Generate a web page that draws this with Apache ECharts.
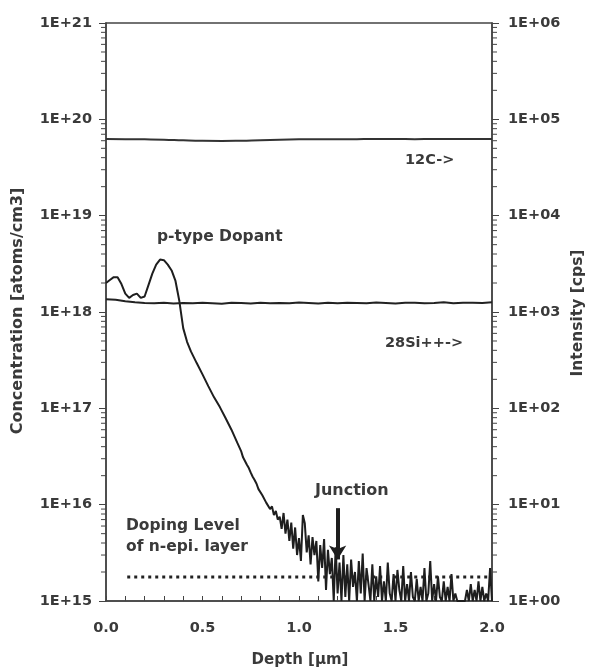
<!DOCTYPE html>
<html>
<head>
<meta charset="utf-8">
<title>SIMS depth profile</title>
<script src="https://cdn.jsdelivr.net/npm/echarts@6/dist/echarts.min.js"></script>
<style>
    html, body { margin: 0; padding: 0; background: #fff; }
    #main { width: 589px; height: 669px; }
</style>
</head>
<body>
<div id="main"></div>
<script>
// depth [um] / concentration [atoms/cm3] of the p-type dopant
var dopantDepth = [
    0.00, 0.02, 0.04, 0.06, 0.08, 0.10, 0.12, 0.14, 0.16, 0.18,
    0.20, 0.22, 0.24, 0.26, 0.28, 0.30, 0.32, 0.34, 0.36, 0.38,
    0.40, 0.42, 0.44, 0.47, 0.50, 0.53, 0.56, 0.59, 0.62, 0.65,
    0.68, 0.70, 0.71, 0.72, 0.73, 0.74, 0.75, 0.76, 0.77, 0.78,
    0.79, 0.80, 0.81, 0.82, 0.83, 0.84, 0.85, 0.86, 0.87, 0.88,
    0.89, 0.90, 0.91, 0.92, 0.93, 0.94, 0.95, 0.96, 0.97, 0.98,
    0.99, 1.00, 1.01, 1.02, 1.03, 1.04, 1.05, 1.06, 1.07, 1.08,
    1.09, 1.10, 1.11, 1.12, 1.13, 1.14, 1.15, 1.16, 1.17, 1.18,
    1.19, 1.20, 1.21, 1.22, 1.23, 1.24, 1.25, 1.26, 1.27, 1.28,
    1.29, 1.30, 1.31, 1.32, 1.33, 1.34, 1.35, 1.36, 1.37, 1.38,
    1.39, 1.40, 1.41, 1.42, 1.43, 1.44, 1.45, 1.46, 1.47, 1.48,
    1.49, 1.50, 1.51, 1.52, 1.53, 1.54, 1.55, 1.56, 1.57, 1.58,
    1.59, 1.60, 1.61, 1.62, 1.63, 1.64, 1.65, 1.66, 1.67, 1.68,
    1.69, 1.70, 1.71, 1.72, 1.73, 1.74, 1.75, 1.76, 1.77, 1.78,
    1.79, 1.80, 1.81, 1.82, 1.83, 1.84, 1.85, 1.86, 1.87, 1.88,
    1.89, 1.90, 1.91, 1.92, 1.93, 1.94, 1.95, 1.96, 1.97, 1.98,
    1.99, 2.00
];
var dopantConc = [
    2.0e18, 2.15e18, 2.3e18, 2.3e18, 1.95e18, 1.55e18, 1.4e18, 1.5e18, 1.55e18, 1.4e18,
    1.45e18, 1.9e18, 2.5e18, 3.1e18, 3.5e18, 3.45e18, 3.1e18, 2.7e18, 2.1e18, 1.3e18,
    6.8e17, 4.9e17, 3.9e17, 2.95e17, 2.25e17, 1.7e17, 1.3e17, 1.03e17, 7.9e16, 6.0e16,
    4.4e16, 3.6e16, 3.1e16, 3.0e16, 2.6e16, 2.4e16, 2.15e16, 1.95e16, 1.8e16, 1.65e16,
    1.45e16, 1.4e16, 1.25e16, 1.2e16, 1.05e16, 1.1e16, 9.0e15, 9.6e15, 7.8e15, 8.6e15,
    7.0e15, 7.5e15, 5.6e15, 8.2e15, 5.0e15, 7.0e15, 4.2e15, 6.5e15, 3.5e15, 5.8e15,
    3.0e15, 4.5e15, 2.6e15, 7.8e15, 6.4e15, 3.2e15, 4.8e15, 2.4e15, 4.6e15, 3.0e15,
    4.2e15, 1.6e15, 3.8e15, 2.2e15, 4.4e15, 1.3e15, 3.4e15, 1.9e15, 2.8e15, 1.0e15,
    3.6e15, 1.2e15, 2.5e15, 1.0e15, 3.0e15, 1.1e15, 2.4e15, 1.0e15, 2.7e15, 1.4e15,
    2.0e15, 1.0e15, 2.6e15, 1.2e15, 3.1e15, 1.0e15, 2.2e15, 1.5e15, 1.0e15, 2.4e15,
    1.0e15, 1.8e15, 1.1e15, 2.3e15, 1.0e15, 1.6e15, 1.0e15, 2.5e15, 1.2e15, 1.0e15,
    1.9e15, 1.0e15, 2.1e15, 1.3e15, 1.0e15, 2.3e15, 1.0e15, 1.5e15, 1.0e15, 2.0e15,
    1.1e15, 1.0e15, 1.7e15, 1.0e15, 1.4e15, 1.0e15, 2.2e15, 1.0e15, 1.2e15, 2.6e15,
    1.0e15, 1.5e15, 1.0e15, 1.8e15, 1.1e15, 1.0e15, 1.6e15, 1.0e15, 1.4e15, 1.0e15,
    1.9e15, 1.0e15, 1.2e15, 1.0e15, 1.0e15, 1.0e15, 1.0e15, 1.0e15, 1.3e15, 1.0e15,
    1.5e15, 1.0e15, 1.3e15, 1.0e15, 1.6e15, 1.0e15, 1.4e15, 1.0e15, 1.2e15, 1.0e15,
    2.2e15, 1.0e15
];

// 28Si++ matrix signal [cps]
var siDepth = [
    0.00, 0.05, 0.10, 0.15, 0.20, 0.25, 0.30, 0.35, 0.40, 0.45,
    0.50, 0.55, 0.60, 0.65, 0.70, 0.75, 0.80, 0.85, 0.90, 0.95,
    1.00, 1.05, 1.10, 1.15, 1.20, 1.25, 1.30, 1.35, 1.40, 1.45,
    1.50, 1.55, 1.60, 1.65, 1.70, 1.75, 1.80, 1.85, 1.90, 1.95,
    2.00
];
var siCounts = [
    1360, 1340, 1290, 1260, 1240, 1235, 1245, 1225, 1240, 1230,
    1250, 1235, 1220, 1245, 1240, 1225, 1250, 1235, 1240, 1230,
    1255, 1240, 1225, 1245, 1235, 1250, 1240, 1230, 1255, 1240,
    1225, 1245, 1250, 1235, 1240, 1260, 1230, 1245, 1250, 1240,
    1265
];

// 12C signal [cps]
var cDepth = [
    0.0, 0.1, 0.2, 0.3, 0.4, 0.5, 0.6, 0.7, 0.8, 0.9,
    1.0, 1.1, 1.2, 1.3, 1.4, 1.5, 1.6, 1.7, 1.8, 1.9, 2.0
];
var cCounts = [
    62500, 62300, 62000, 61500, 60500, 59800, 59600, 60000, 60800, 61500,
    62000, 62200, 62000, 62300, 62500, 62400, 62300, 62600, 62500, 62400, 62500
];

// doping level of the n-epi layer
var epiDepth = [0.11, 1.98];
var epiLevel = [1.78e15, 1.78e15];

// junction arrow (depth, from / to concentration)
var junctionDepth = 1.20;
var junctionFrom = 9.2e15;
var junctionTo = 2.7e15;

var xTicks = { min: 0, max: 2, interval: 0.5 };
var leftDecades = { min: 1e15, max: 1e21 };
var rightDecades = { min: 1, max: 1e6 };

/**
 * 工具
 */
var Util = (function(){

    var zip = function(xs, ys){
        var out = [];
        for (var i = 0; i < xs.length; i++) {
            out.push([xs[i], ys[i]]);
        }
        return out;
    };

    // "1E+21" 形式
    var expLabel = function(v){
        var e = Math.round(Math.log(v) / Math.LN10);
        return '1E+' + (e < 10 ? '0' + e : e);
    };

    // 对数轴的 2..9 小刻度
    var logMinors = function(min, max){
        var out = [];
        for (var d = min; d < max; d *= 10) {
            for (var m = 2; m <= 9; m++) {
                out.push(m * d);
            }
        }
        return out;
    };

    var txt = function(size){
        return 'bold ' + size + 'px "DejaVu Sans"';
    };

    return { zip: zip, expLabel: expLabel, logMinors: logMinors, txt: txt };
})();

var ink = '#3a3a3a';
var font = 'DejaVu Sans';

var chart = echarts.init(document.getElementById('main'));

var tickLabel = function(margin, fmt){
    return {
        margin: margin, color: ink, fontFamily: font, fontWeight: 'bold', fontSize: 14.5,
        formatter: fmt
    };
};

var option = {
    animation: false,
    backgroundColor: '#fff',
    grid: {
        left: 106, right: 97, top: 23, bottom: 68,
        show: true, borderColor: '#444', borderWidth: 1.5
    },
    xAxis: {
        type: 'value',
        min: xTicks.min, max: xTicks.max, interval: xTicks.interval,
        axisLine: { lineStyle: { color: '#444', width: 1.5 } },
        axisTick: { inside: true, length: 5, lineStyle: { color: '#444' } },
        minorTick: { show: true, splitNumber: 5, length: 5, lineStyle: { color: '#444' } },
        splitLine: { show: false },
        axisLabel: tickLabel(20, function(v){ return v.toFixed(1); })
    },
    yAxis: [{
        type: 'log', logBase: 10,
        min: leftDecades.min, max: leftDecades.max,
        axisLine: { show: true, lineStyle: { color: '#444', width: 1.5 } },
        axisTick: { show: true, length: 7, lineStyle: { color: '#444' } },
        splitLine: { show: false },
        axisLabel: tickLabel(14, Util.expLabel)
    }, {
        type: 'log', logBase: 10, position: 'right',
        min: rightDecades.min, max: rightDecades.max,
        axisLine: { show: true, lineStyle: { color: '#444', width: 1.5 } },
        axisTick: { show: true, length: 7, lineStyle: { color: '#444' } },
        splitLine: { show: false },
        axisLabel: tickLabel(16, Util.expLabel)
    }],
    series: [{
        name: 'p-type Dopant',
        type: 'line', yAxisIndex: 0,
        data: Util.zip(dopantDepth, dopantConc),
        showSymbol: false, clip: true,
        lineStyle: { color: '#1e1e1e', width: 2 },
        markLine: {
            silent: true,
            symbol: ['none', 'arrow'], symbolSize: [13, 14],
            label: { show: false },
            lineStyle: { color: '#1e1e1e', width: 4, type: 'solid' },
            data: [[
                { coord: [junctionDepth, junctionFrom] },
                { coord: [junctionDepth, junctionTo] }
            ]]
        }
    }, {
        name: '28Si++',
        type: 'line', yAxisIndex: 1,
        data: Util.zip(siDepth, siCounts),
        showSymbol: false,
        lineStyle: { color: '#222', width: 2 }
    }, {
        name: '12C',
        type: 'line', yAxisIndex: 1,
        data: Util.zip(cDepth, cCounts),
        showSymbol: false, smooth: true,
        lineStyle: { color: '#333', width: 2 }
    }, {
        name: 'n-epi',
        type: 'line', yAxisIndex: 0,
        data: Util.zip(epiDepth, epiLevel),
        showSymbol: false,
        lineStyle: { color: '#222', width: 3, type: [3, 4] }
    }, {
        // log minor ticks, both sides
        type: 'custom', yAxisIndex: 0, silent: true, clip: false,
        data: Util.logMinors(leftDecades.min, leftDecades.max).map(function(v){ return [0, v]; }),
        renderItem: function(params, api){
            var l = api.coord([xTicks.min, api.value(1)]);
            var r = api.coord([xTicks.max, api.value(1)]);
            var st = { stroke: '#444', lineWidth: 1 };
            return {
                type: 'group',
                children: [
                    { type: 'line', shape: { x1: l[0] - 5, y1: l[1], x2: l[0], y2: l[1] }, style: st },
                    { type: 'line', shape: { x1: r[0], y1: r[1], x2: r[0] + 5, y2: r[1] }, style: st }
                ]
            };
        }
    }],
    graphic: [
        { type: 'text', left: 157, top: 229, style: { text: 'p-type Dopant', font: Util.txt(15.5), fill: ink } },
        { type: 'text', left: 405, top: 153, style: { text: '12C->', font: Util.txt(14.5), fill: ink } },
        { type: 'text', left: 385, top: 336, style: { text: '28Si++->', font: Util.txt(14.5), fill: ink } },
        { type: 'text', left: 315, top: 483, style: { text: 'Junction', font: Util.txt(16), fill: ink } },
        { type: 'text', left: 126, top: 518, style: { text: 'Doping Level', font: Util.txt(15.5), fill: ink } },
        { type: 'text', left: 126, top: 539, style: { text: 'of n-epi. layer', font: Util.txt(15.5), fill: ink } },
        {
            type: 'text', x: 18, y: 311, rotation: Math.PI / 2,
            style: { text: 'Concentration [atoms/cm3]', font: Util.txt(16), fill: ink, align: 'center', verticalAlign: 'middle' }
        },
        {
            type: 'text', x: 578, y: 313, rotation: Math.PI / 2,
            style: { text: 'Intensity [cps]', font: Util.txt(15.5), fill: ink, align: 'center', verticalAlign: 'middle' }
        },
        {
            type: 'text', x: 300, y: 660,
            style: { text: 'Depth [µm]', font: Util.txt(15), fill: ink, align: 'center', verticalAlign: 'middle' }
        }
    ]
};

chart.setOption(option);
</script>
</body>
</html>
